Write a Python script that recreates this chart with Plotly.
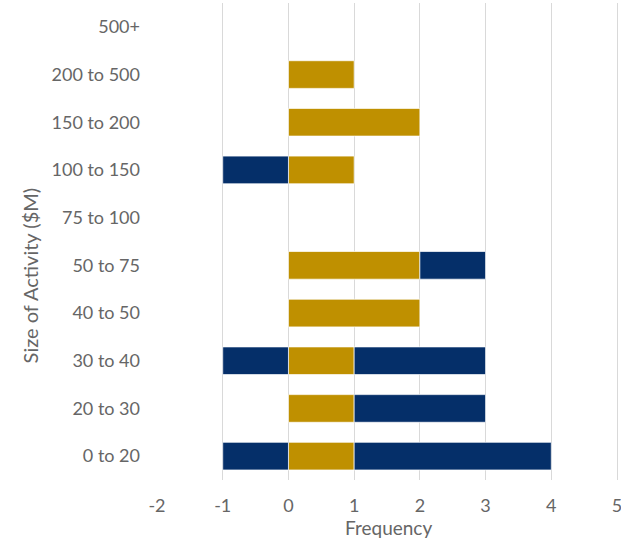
import plotly.graph_objects as go

categories = ["0 to 20", "20 to 30", "30 to 40", "40 to 50", "50 to 75",
              "75 to 100", "100 to 150", "150 to 200", "200 to 500", "500+"]
gold_values = [1, 1, 1, 2, 2, 0, 1, 2, 1, 0]
navy_positive = [3, 2, 2, 0, 1, 0, 0, 0, 0, 0]
navy_negative = [-1, 0, -1, 0, 0, 0, -1, 0, 0, 0]
x_ticks = [-2, -1, 0, 1, 2, 3, 4, 5]
x_tick_labels = ["-2", "-1", "0", "1", "2", "3", "4", "5"]

GOLD = "#BF9000"
NAVY = "#052F69"
FONT = "Lato"
TXT = "#666666"


def nz(vals):
    return [v if v != 0 else None for v in vals]


fig = go.Figure()
border = dict(color="rgba(255,255,255,0.7)", width=1)
fig.add_trace(go.Bar(y=categories, x=nz(gold_values), orientation="h",
                     marker=dict(color=GOLD, line=border), name="Gold"))
fig.add_trace(go.Bar(y=categories, x=nz(navy_positive), orientation="h",
                     marker=dict(color=NAVY, line=border), name="Navy +"))
fig.add_trace(go.Bar(y=categories, x=nz(navy_negative), orientation="h",
                     marker=dict(color=NAVY, line=border), name="Navy -"))

fig.update_layout(
    width=621, height=538,
    barmode="relative", bargap=0.42,
    showlegend=False,
    plot_bgcolor="white", paper_bgcolor="white",
    margin=dict(l=157, r=2, t=3, b=58, autoexpand=False),
    font=dict(family=FONT, size=18, color=TXT),
    xaxis=dict(range=[-2, 5.03], tickvals=x_ticks, ticktext=x_tick_labels,
               showgrid=True, automargin=False, ticklabeloverflow="allow",
               gridcolor="#D9D9D9", gridwidth=1, zeroline=False,
               showline=False, ticks="", ticklabelstandoff=13,
               tickfont=dict(size=18, color=TXT)),
    yaxis=dict(categoryorder="array", categoryarray=categories,
               range=[-0.5, 9.5], showgrid=False, zeroline=False,
               automargin=False,
               showline=False, ticks="", ticklabelstandoff=16,
               tickfont=dict(size=18, color=TXT)),
    annotations=[
        dict(text="Frequency", xref="paper", yref="paper", x=0.5, y=-0.1,
             showarrow=False, xanchor="center", yanchor="middle",
             font=dict(size=19, color=TXT, family=FONT)),
        dict(text="Size of Activity ($M)", xref="paper", yref="paper",
             x=-0.276, y=0.43, textangle=-90, showarrow=False,
             xanchor="center", yanchor="middle",
             font=dict(size=20, color=TXT, family=FONT)),
    ],
)

fig.write_html("out.html", config={"displayModeBar": False},
               post_script="document.body.style.margin='0';document.body.style.padding='0';")
